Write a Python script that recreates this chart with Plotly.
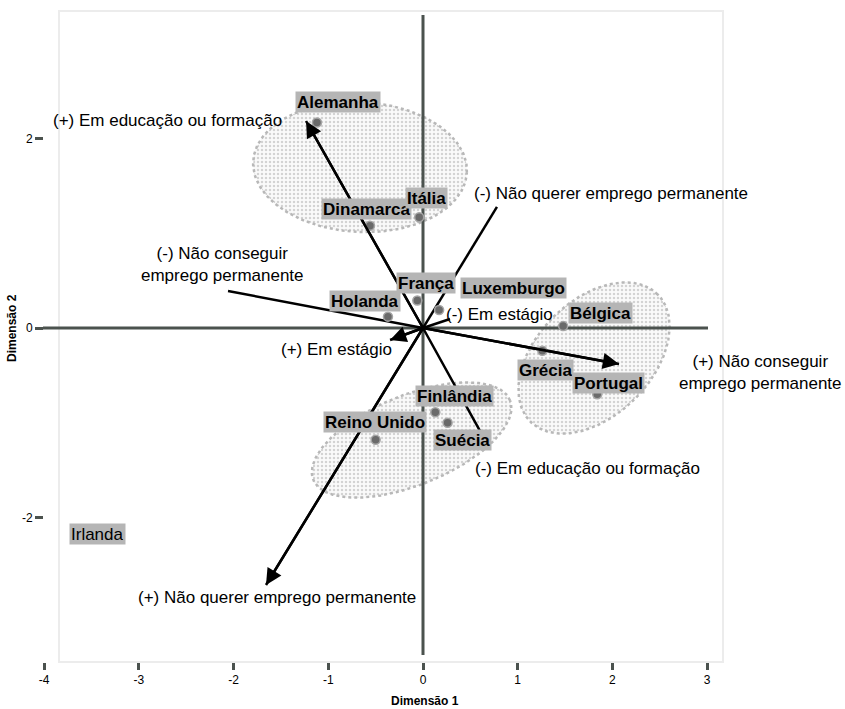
import numpy as np
import plotly.graph_objects as go

# ---------------- data ----------------
countries = ["Alemanha", "Dinamarca", "Itália", "França", "Luxemburgo", "Holanda",
             "Bélgica", "Grécia", "Portugal", "Finlândia", "Suécia", "Reino Unido", "Irlanda"]
dim1 = [-1.12, -0.56, -0.04, -0.06, 0.17, -0.37, 1.48, 1.26, 1.84, 0.13, 0.26, -0.50, None]
dim2 = [2.17, 1.08, 1.17, 0.29, 0.19, 0.12, 0.02, -0.24, -0.70, -0.89, -1.00, -1.18, None]

# label positions (data units)
label_x = [-0.90, -0.60, 0.04, 0.03, 0.96, -0.61, 1.87, 1.29, 1.96, 0.33, 0.42, -0.51, -3.44]
label_y = [2.39, 1.26, 1.37, 0.47, 0.42, 0.28, 0.16, -0.44, -0.58, -0.72, -1.18, -0.99, -2.18]
label_bold = [True] * 12 + [False]

# biplot variable vectors
var_pos_text = ["(+) Em educação ou formação", "(+) Não querer emprego permanente",
                "(+) Não conseguir<br>emprego permanente", "(+) Em estágio"]
var_neg_text = ["(-) Em educação ou formação", "(-) Não querer emprego permanente",
                "(-) Não conseguir<br>emprego permanente", "(-) Em estágio"]
pos_d1 = [-1.235, -1.658, 2.070, -0.348]
pos_d2 = [2.186, -2.714, -0.380, -0.127]
neg_d1 = [0.644, 0.781, -2.059, 0.285]
neg_d2 = [-1.162, 1.278, 0.391, 0.095]
pos_lab_x = [-2.70, -1.54, 3.56, -0.91]
pos_lab_y = [2.19, -2.85, -0.47, -0.23]
neg_lab_x = [1.74, 1.98, -2.12, 0.81]
neg_lab_y = [-1.48, 1.42, 0.67, 0.14]

# cluster ellipses
ell_cx = [-0.665, 1.806, -0.12]
ell_cy = [1.700, -0.317, -1.183]
ell_a = [1.13, 0.95, 1.12]
ell_b = [0.686, 0.61, 0.475]
ell_ang = [-3, 45, 22]

x_ticks = [-4, -3, -2, -1, 0, 1, 2, 3]
x_tick_text = ["-4", "-3", "-2", "-1", "0", "1", "2", "3"]
y_ticks = [-2, 0, 2]
y_tick_text = ["-2", "0", "2"]

# ---------------- geometry ----------------
W, H = 845, 709
PX = 94.7           # pixels per unit
OX, OY = 423, 328   # pixel position of origin
xr = [-OX / PX, (W - OX) / PX]
yr = [(OY - H) / PX, OY / PX]

AXC = "#4b524e"
FONT = "Liberation Sans, Arial, sans-serif"
TICKFONT = "Liberation Sans Narrow, Arial Narrow, Liberation Sans"

fig = go.Figure()

# ellipses
t = np.linspace(0, 2 * np.pi, 200)
for cx, cy, a, b, ang in zip(ell_cx, ell_cy, ell_a, ell_b, ell_ang):
    th = np.deg2rad(ang)
    ex = cx + a * np.cos(t) * np.cos(th) - b * np.sin(t) * np.sin(th)
    ey = cy + a * np.cos(t) * np.sin(th) + b * np.sin(t) * np.cos(th)
    fig.add_trace(go.Scatter(
        x=ex, y=ey, mode="lines", fill="toself",
        line=dict(color="#b8b8b8", width=2.5, dash="dot"),
        fillcolor="rgba(235,235,235,0.6)",
        fillpattern=dict(shape=".", size=4, solidity=0.3, fgcolor="#ababab",
                         bgcolor="rgba(246,246,246,0.6)"),
        hoverinfo="skip", showlegend=False))

# axis cross lines
fig.add_trace(go.Scatter(x=[(43 - OX) / PX, (708 - OX) / PX], y=[0, 0], mode="lines",
                         line=dict(color=AXC, width=3), hoverinfo="skip", showlegend=False))
fig.add_trace(go.Scatter(x=[0, 0], y=[(OY - 655) / PX, (OY - 15) / PX], mode="lines",
                         line=dict(color=AXC, width=3), hoverinfo="skip", showlegend=False))

# vector lines
for p1, p2, n1, n2 in zip(pos_d1, pos_d2, neg_d1, neg_d2):
    fig.add_trace(go.Scatter(x=[n1, 0, p1], y=[n2, 0, p2], mode="lines",
                             line=dict(color="black", width=2.5),
                             hoverinfo="skip", showlegend=False))

# country points
fig.add_trace(go.Scatter(x=dim1, y=dim2, mode="markers",
                         marker=dict(size=9, color="#6a6a6a",
                                     line=dict(color="#a5a5a5", width=1.5)),
                         hoverinfo="skip", showlegend=False))

annotations = []

# arrowheads
for p1, p2 in zip(pos_d1, pos_d2):
    annotations.append(dict(x=p1, y=p2, ax=0, ay=0, xref="x", yref="y", axref="x", ayref="y",
                            text="", showarrow=True, arrowhead=2, arrowsize=1.3,
                            arrowwidth=2.5, arrowcolor="black", standoff=0))

# vector labels
for txt, lx, ly in zip(var_pos_text + var_neg_text, pos_lab_x + neg_lab_x, pos_lab_y + neg_lab_y):
    annotations.append(dict(x=lx, y=ly, xref="x", yref="y", text=txt, showarrow=False,
                            font=dict(family=FONT, size=17, color="black"), align="center"))

# country labels
for name, lx, ly, bold in zip(countries, label_x, label_y, label_bold):
    annotations.append(dict(x=lx, y=ly, xref="x", yref="y",
                            text=f"<b>{name}</b>" if bold else name, showarrow=False,
                            font=dict(family=FONT, size=17, color="black"),
                            bgcolor="#b5b5b5", borderpad=1, height=18))

# axis titles
annotations.append(dict(x=425 / W, y=1 - 701 / H, xref="paper", yref="paper",
                        xanchor="center", yanchor="middle",
                        text="<b>Dimensão 1</b>", showarrow=False,
                        font=dict(family=FONT, size=12, color="black")))
annotations.append(dict(x=12 / W, y=1 - 328 / H, xref="paper", yref="paper",
                        xanchor="center", yanchor="middle",
                        text="<b>Dimensão 2</b>", showarrow=False, textangle=-90,
                        font=dict(family=FONT, size=12, color="black")))

fig.update_layout(
    width=W, height=H,
    margin=dict(l=0, r=0, t=0, b=0),
    paper_bgcolor="white", plot_bgcolor="rgba(0,0,0,0)",
    showlegend=False, hovermode=False,
    annotations=annotations,
    shapes=[dict(type="rect", xref="paper", yref="paper", layer="below",
                 x0=59 / W, x1=723 / W, y0=1 - 662 / H, y1=1 - 11 / H,
                 line=dict(color="#ececec", width=2), fillcolor="rgba(0,0,0,0)")],
    xaxis=dict(domain=[0, 1], range=xr, anchor="free", position=1 - 662 / H,
               showgrid=False, zeroline=False, showline=False,
               tickmode="array", tickvals=x_ticks, ticktext=x_tick_text,
               ticks="outside", ticklen=7, tickwidth=3, tickcolor=AXC,
               tickfont=dict(family=TICKFONT, size=12, color="black")),
    yaxis=dict(domain=[0, 1], range=yr, anchor="free", position=43 / W,
               showgrid=False, zeroline=False, showline=False,
               tickmode="array", tickvals=y_ticks, ticktext=y_tick_text,
               ticks="outside", ticklen=8, tickwidth=3, tickcolor=AXC,
               tickfont=dict(family=TICKFONT, size=12, color="black")),
)

fig.write_html("out.html")
